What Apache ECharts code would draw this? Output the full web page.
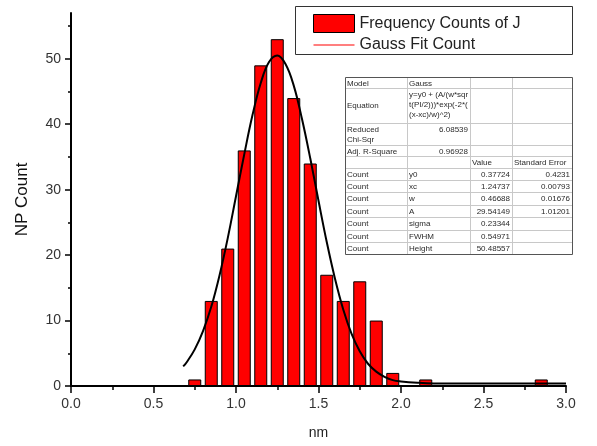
<!DOCTYPE html>
<html>
<head>
<meta charset="utf-8">
<script src="https://cdn.jsdelivr.net/npm/echarts@6/dist/echarts.min.js"></script>
<style>
  html, body { margin: 0; padding: 0; background: #fff; }
  #main { width: 597px; height: 446px; }
</style>
</head>
<body>
<div id="main"></div>
<script>
// histogram bins (bin centre in nm, count)
const binCenters = [0.75, 0.85, 0.95, 1.05, 1.15, 1.25, 1.35, 1.45, 1.55, 1.65, 1.75, 1.85, 1.95, 2.15, 2.85];
const binCounts  = [1, 13, 21, 36, 49, 53, 44, 34, 17, 13, 16, 10, 2, 1, 1];

// gauss fit curve
const fitX = [0.68, 0.70, 0.75, 0.80, 0.85, 0.90, 0.95, 1.00, 1.05, 1.10, 1.15, 1.20, 1.25, 1.30, 1.35, 1.40,
              1.45, 1.50, 1.55, 1.60, 1.65, 1.70, 1.75, 1.80, 1.85, 1.90, 1.95, 2.00, 2.10, 2.20, 2.50, 3.00];
const fitY = [3.0, 3.6, 5.6, 8.4, 12.1, 16.9, 22.6, 29.0, 35.4, 41.4, 46.3, 49.5, 50.5, 49.2, 45.9, 40.8,
              34.8, 28.3, 22.0, 16.4, 11.7, 8.0, 5.3, 3.4, 2.2, 1.4, 0.9, 0.7, 0.5, 0.4, 0.38, 0.38];

const yLabels = [0, 10, 20, 30, 40, 50];
const yMinor = [5, 15, 25, 35, 45, 55];

// fit report table
const tableRows = [
  ['Model', 'Gauss', '', ''],
  ['Equation', 'y=y0 + (A/(w*sqr\nt(PI/2)))*exp(-2*(\n(x-xc)/w)^2)', '', ''],
  ['Reduced\nChi-Sqr', '6.08539', '', ''],
  ['Adj. R-Square', '0.96928', '', ''],
  ['', '', 'Value', 'Standard Error'],
  ['Count', 'y0', '0.37724', '0.4231'],
  ['Count', 'xc', '1.24737', '0.00793'],
  ['Count', 'w', '0.46688', '0.01676'],
  ['Count', 'A', '29.54149', '1.01201'],
  ['Count', 'sigma', '0.23344', ''],
  ['Count', 'FWHM', '0.54971', ''],
  ['Count', 'Height', '50.48557', '']
];

// table layout (pixels)
const colEdges = [345, 407, 470, 512, 572];
const rowEdges = [77, 88, 123, 145, 156, 168, 180, 192, 205, 217, 230, 242, 254];

const FONT = '"Liberation Sans", Arial, sans-serif';

const chart = echarts.init(document.getElementById('main'));

function buildTable() {
  const els = [];
  const x0 = colEdges[0], x1 = colEdges[colEdges.length - 1];
  const y0 = rowEdges[0], y1 = rowEdges[rowEdges.length - 1];
  els.push({ type: 'rect', shape: { x: x0 + 0.5, y: y0 + 0.5, width: x1 - x0, height: y1 - y0 },
    style: { fill: '#fff', stroke: '#555', lineWidth: 1 }, z: 10 });
  for (let i = 1; i < rowEdges.length - 1; i++) {
    els.push({ type: 'line', shape: { x1: x0 + 1, y1: rowEdges[i] + 0.5, x2: x1, y2: rowEdges[i] + 0.5 },
      style: { stroke: '#c8c8c8', lineWidth: 1 }, z: 11 });
  }
  for (let j = 1; j < colEdges.length - 1; j++) {
    els.push({ type: 'line', shape: { x1: colEdges[j] + 0.5, y1: y0 + 1, x2: colEdges[j] + 0.5, y2: y1 },
      style: { stroke: '#c8c8c8', lineWidth: 1 }, z: 11 });
  }
  tableRows.forEach((row, r) => {
    const top = rowEdges[r], h = rowEdges[r + 1] - rowEdges[r];
    row.forEach((txt, c) => {
      if (!txt) return;
      const isNum = /^[\d.]+$/.test(txt);
      const single = txt.indexOf('\n') < 0;
      const mid = h > 30 && single && c === 0;
      els.push({
        type: 'text', z: 12,
        x: isNum ? colEdges[c + 1] - 2 : colEdges[c] + 2,
        y: mid ? top + h / 2 : top + 1.5,
        style: {
          text: txt, fill: '#2a2a2a', fontSize: 8, fontFamily: FONT, lineHeight: 10,
          align: isNum ? 'right' : 'left', verticalAlign: mid ? 'middle' : 'top'
        }
      });
    });
  });
  return els;
}

const option = {
  animation: false,
  backgroundColor: '#fff',
  grid: { left: 71, right: 31, top: 13, bottom: 60 },
  legend: {
    orient: 'vertical', left: 308, top: 9,
    itemWidth: 41, itemHeight: 18, itemGap: 4,
    textStyle: { fontSize: 16, fontFamily: FONT, color: '#222' },
    data: [
      { name: 'Frequency Counts of J', icon: 'rect',
        itemStyle: { color: '#ff0000', borderColor: '#000', borderWidth: 1 } },
      { name: 'Gauss Fit Count', icon: 'path://M0,0 L41,0 L41,1 L0,1 Z',
        itemStyle: { color: '#ff0000', borderWidth: 0 } }
    ]
  },
  xAxis: {
    type: 'value', min: 0, max: 3, interval: 0.5,
    name: 'nm', nameLocation: 'middle', nameGap: 40,
    nameTextStyle: { fontSize: 14, fontFamily: FONT, color: '#222' },
    axisLine: { onZero: false, lineStyle: { color: '#000', width: 2 } },
    axisTick: { show: true, length: 7, lineStyle: { color: '#000', width: 1.5 } },
    minorTick: { show: true, splitNumber: 2, length: 4, lineStyle: { color: '#000', width: 1.5 } },
    axisLabel: { fontSize: 14, fontFamily: FONT, color: '#333', margin: 11,
      formatter: v => v.toFixed(1) },
    splitLine: { show: false }
  },
  yAxis: [
    {
      type: 'value', min: 0, max: 57,
      name: 'NP Count', nameLocation: 'middle', nameGap: 40,
      nameTextStyle: { fontSize: 17, fontFamily: FONT, color: '#111' },
      axisLine: { show: true, lineStyle: { color: '#000', width: 2 } },
      axisTick: { show: true, length: 6, customValues: yLabels, lineStyle: { color: '#000', width: 1.5 } },
      axisLabel: { fontSize: 14, fontFamily: FONT, color: '#333', margin: 10, customValues: yLabels },
      splitLine: { show: false }
    },
    {
      type: 'value', min: 0, max: 57, position: 'left',
      axisLine: { show: false },
      axisTick: { show: true, length: 3, customValues: yMinor, lineStyle: { color: '#000', width: 1.5 } },
      axisLabel: { show: false },
      splitLine: { show: false }
    }
  ],
  series: [
    {
      name: 'Frequency Counts of J', type: 'bar', barWidth: 13,
      itemStyle: { color: '#ff0000', borderColor: '#000', borderWidth: 1 },
      data: binCenters.map((x, i) => [x, binCounts[i]]),
      z: 2
    },
    {
      name: 'Gauss Fit Count', type: 'line', symbol: 'none', smooth: 0.4,
      lineStyle: { color: '#000', width: 2 },
      data: fitX.map((x, i) => [x, fitY[i]]),
      z: 3
    }
  ],
  graphic: [
    { type: 'rect', shape: { x: 295.5, y: 6.5, width: 277, height: 48 },
      style: { fill: '#fff', stroke: '#333', lineWidth: 1 }, z: -1, silent: true },
    ...buildTable()
  ]
};

chart.setOption(option);
</script>
</body>
</html>
